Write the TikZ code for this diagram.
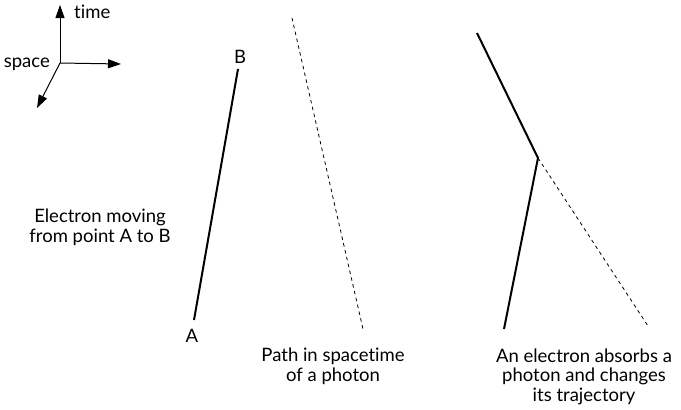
\documentclass[tikz,border=0pt]{standalone}
\usepackage{fontspec}
\setmainfont{Lato}[Ligatures=NoCommon]
\usetikzlibrary{arrows.meta}
\begin{document}
\begin{tikzpicture}[x=1pt,y=-1pt,
  axis/.style={line width=1pt,-{Triangle[length=13pt,width=9pt]}},
  eline/.style={line width=2pt},
  photon/.style={line width=0.8pt,dash pattern=on 3.5pt off 3.5pt},
  lbl/.style={font=\fontsize{18.5}{20}\selectfont,inner sep=0pt},
  captext/.style={font=\fontsize{18.5}{19.5}\selectfont,align=center,inner sep=0pt,anchor=base}]
\useasboundingbox (0,0) rectangle (681,410);
% axes
\coordinate (o) at (60,63);
\coordinate (tt) at (60,5);
\coordinate (tx) at (121,64);
\coordinate (ts) at (37,108);
\draw[axis] (o) -- (tt);
\draw[axis] (o) -- (tx);
\draw[axis] (o) -- (ts);
\node[lbl,anchor=base west] (time) at (74,18) {time};
\node[lbl,anchor=base east] (space) at (50,67) {space};
% electron A to B
\node[lbl,anchor=base] (A) at (192,342) {A};
\node[lbl,anchor=base] (B) at (240,63) {B};
\coordinate (a) at (194,320);
\coordinate (b) at (238,69);
\draw[eline] (a) -- (b);
\node[captext] (c1) at (100,242) {Electron moving\\from point A to B};
% photon
\coordinate (p1) at (292,18);
\coordinate (p2) at (363,329);
\draw[photon] (p1) -- (p2);
\node[captext] (c2) at (333,381) {Path in spacetime\\of a photon};
% absorption
\coordinate (e1) at (477,33);
\coordinate (v) at (538,158);
\coordinate (e0) at (504,329);
\coordinate (ph) at (648,326);
\draw[eline,line join=miter] (e0) -- (v) -- (e1);
\draw[photon] (v) -- (ph);
\node[captext] (c3) at (584,401) {An electron absorbs a\\photon and changes\\its trajectory};
\end{tikzpicture}
\end{document}
